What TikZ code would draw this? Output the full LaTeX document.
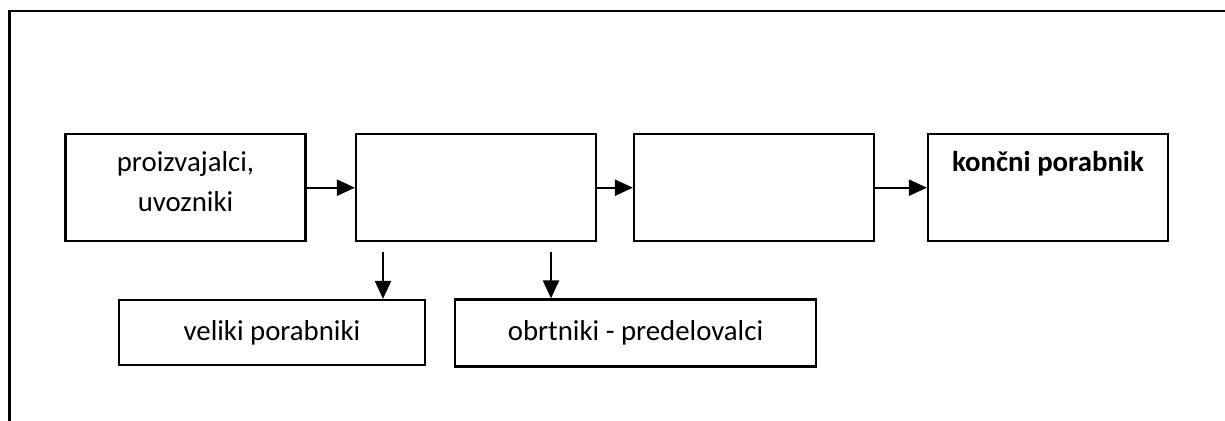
\documentclass[tikz,border=0pt]{standalone}
\usepackage{fontspec}
\setmainfont{Carlito}
\usetikzlibrary{arrows.meta,positioning}
\tikzset{
	blok/.style={draw, line width=1.1pt, minimum width=120pt, minimum height=53.5pt,
			inner sep=0pt, align=center, text height=12pt, text depth=28pt,
			font=\fontsize{14.4}{20}\selectfont},
	spodnji/.style={draw, line width=1.1pt, inner sep=0pt, font=\fontsize{14.4}{20}\selectfont},
	puscica/.style={-{Triangle[length=9pt,width=8pt]}, line width=1.1pt}
}
\begin{document}
\begin{tikzpicture}[x=0.5pt,y=-0.5pt]
	\useasboundingbox (0,0) rectangle (1225,421);
	\draw[line width=1.25pt] (1225,11) -- (9.5,11) -- (9.5,421);
	\node[blok, text height=32pt, text depth=8pt] (proizv) at (185.5,187.7) {proizvajalci,\\uvozniki};
	\node[blok] (vmes1) at (476,187.7) {};
	\node[blok] (vmes2) at (754,187.7) {};
	\node[blok] (koncni) at (1048,187.7) {\textbf{končni porabnik}};
	\node[spodnji, minimum width=153pt, minimum height=32.5pt] (veliki) at (272,332.5) {veliki porabniki};
	\node[spodnji, minimum width=180.5pt, minimum height=33.5pt] (obrtniki) at (635.5,333) {obrtniki - predelovalci};
	\draw[puscica] (proizv) -- (vmes1);
	\draw[puscica] (vmes1) -- (vmes2);
	\draw[puscica] (vmes2) -- (koncni);
	\coordinate (d1) at (383,252);
	\coordinate (d2) at (551,252);
	\draw[puscica] (d1) -- (d1 |- veliki.north);
	\draw[puscica] (d2) -- (d2 |- obrtniki.north);
\end{tikzpicture}
\end{document}
